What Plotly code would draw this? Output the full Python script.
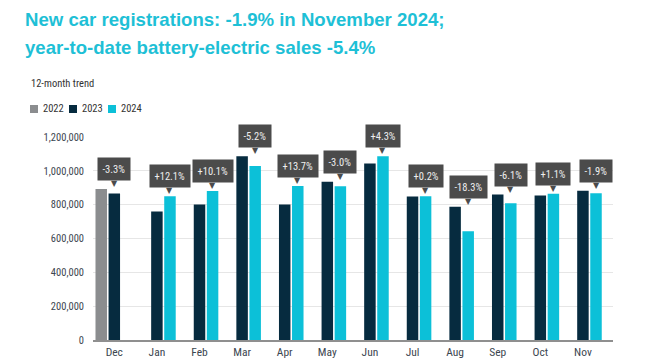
import plotly.graph_objects as go

# ---------------- data ----------------
months = ["Dec", "Jan", "Feb", "Mar", "Apr", "May", "Jun", "Jul", "Aug", "Sep", "Oct", "Nov"]
years = ["2022", "2023", "2024"]
reg_2022 = [893000, None, None, None, None, None, None, None, None, None, None, None]
reg_2023 = [866000, 759000, 801000, 1086000, 801000, 936000, 1043000, 848000, 787000, 860000, 854000, 883000]
reg_2024 = [None, 850000, 881000, 1029000, 911000, 909000, 1086000, 850000, 643000, 808000, 864000, 867000]
changes = ["-3.3%", "+12.1%", "+10.1%", "-5.2%", "+13.7%", "-3.0%", "+4.3%", "+0.2%",
           "-18.3%", "-6.1%", "+1.1%", "-1.9%"]
y_tick_vals = [0, 200000, 400000, 600000, 800000, 1000000, 1200000]
y_tick_text = ["0", "200,000", "400,000", "600,000", "800,000", "1,000,000", "1,200,000"]

title_lines = ["New car registrations: -1.9% in November 2024;",
               "year-to-date battery-electric sales -5.4%"]
subtitle_text = "12-month trend"

# ---------------- style ----------------
colors = ["#8b8d8f", "#062b3f", "#0cc0d8"]
title_color = "#1ec0d6"
box_color = "#4b4b4b"
tick_font = "Roboto Condensed, Roboto, sans-serif"
W, H = 660, 360
ML, MR, MT, MB = 93, 47, 137, 20
BARGAP = 0.08

series = [reg_2022, reg_2023, reg_2024]

fig = go.Figure()
for name, vals, col in zip(years, series, colors):
    fig.add_trace(go.Bar(x=months, y=vals, name=name, marker=dict(color=col, line=dict(width=0)),
                         showlegend=False, hoverinfo="x+y+name"))

# change callouts
slot = (1 - BARGAP) / 3
annotations = []
for i, lab in enumerate(changes):
    vals = [s[i] for s in series if s[i] is not None]
    top = max(vals)
    xpos = i + slot if reg_2024[i] is not None else i
    annotations.append(dict(x=xpos, y=top, xref="x", yref="y", text="\u25BC", showarrow=False,
                            yanchor="bottom", yshift=-1,
                            font=dict(size=8, color=box_color, family="DejaVu Sans")))
    annotations.append(dict(x=xpos, y=top, xref="x", yref="y", text=lab, showarrow=False,
                            yanchor="bottom", yshift=8, bgcolor=box_color, borderpad=4.5,
                            font=dict(size=10.5, color="#eeeeee", family=tick_font)))

def px_x(px):
    return (px - ML) / (W - ML - MR)

def px_y(py):
    return (H - MB - py) / (H - MT - MB)

# title (two lines)
for line, cy in zip(title_lines, [19, 47]):
    annotations.append(dict(x=px_x(23), y=px_y(cy), xref="paper", yref="paper", text=line,
                            showarrow=False, xanchor="left", yanchor="middle", align="left",
                            font=dict(size=18.6, color=title_color,
                                      family="Liberation Sans, Arial, sans-serif", weight="bold")))

# subtitle
annotations.append(dict(x=px_x(29), y=px_y(83), xref="paper", yref="paper", text=subtitle_text,
                        showarrow=False, xanchor="left", yanchor="middle",
                        font=dict(size=10.5, color="#333333", family=tick_font)))

# manual legend
shapes = []
leg_x = [30, 69, 108]
for name, col, lx in zip(years, colors, leg_x):
    shapes.append(dict(type="rect", xref="paper", yref="paper",
                       x0=px_x(lx), x1=px_x(lx + 8), y0=px_y(113), y1=px_y(105),
                       fillcolor=col, line=dict(width=0)))
    annotations.append(dict(x=px_x(lx + 11), y=px_y(109), xref="paper", yref="paper", text=name,
                            showarrow=False, xanchor="left", yanchor="middle",
                            font=dict(size=10.5, color="#333333", family=tick_font)))

fig.update_layout(
    width=W, height=H,
    margin=dict(l=ML, r=MR, t=MT, b=MB, autoexpand=False),
    paper_bgcolor="white", plot_bgcolor="white",
    barmode="group", bargap=BARGAP, bargroupgap=0.12,
    annotations=annotations,
    shapes=shapes,
    showlegend=False,
)
fig.update_xaxes(type="category", showgrid=False, showline=True, linecolor="#8f8f8f", linewidth=1.5,
                 ticks="", automargin=False, tickfont=dict(size=11.5, color="#3c4650", family=tick_font))
fig.update_yaxes(range=[0, 1200000], tickvals=y_tick_vals, ticktext=y_tick_text,
                 showgrid=True, gridcolor="#e6e6e6", gridwidth=1, zeroline=False,
                 ticks="", ticklabelstandoff=8, automargin=False,
                 tickfont=dict(size=10.5, color="#3c4650", family=tick_font))

fig.write_html("out.html", config={"displayModeBar": False},
               post_script="document.body.style.margin='0';")
